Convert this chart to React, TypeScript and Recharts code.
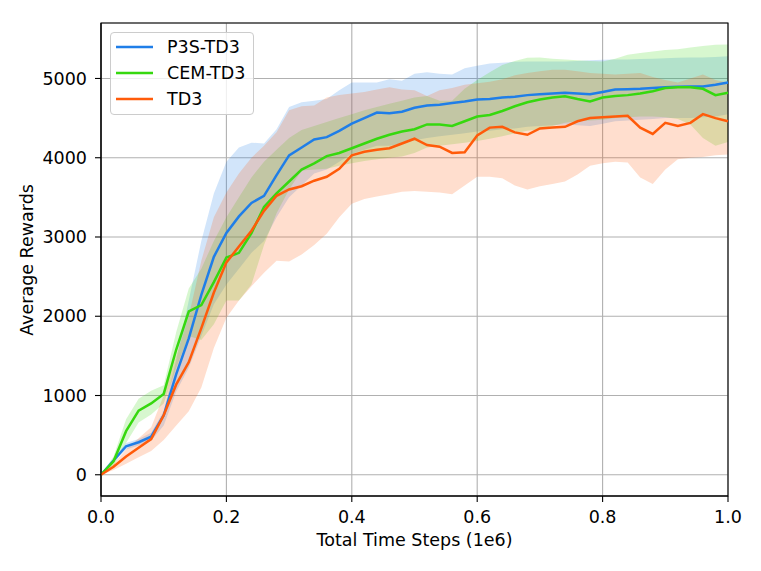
import { ComposedChart, Line, Area, XAxis, YAxis, CartesianGrid, ReferenceArea, Legend } from 'recharts';

// x positions (1e6 steps)
const steps = [
  0, 0.02, 0.04, 0.06, 0.08, 0.1, 0.12, 0.14, 0.16, 0.18,
  0.2, 0.22, 0.24, 0.26, 0.28, 0.3, 0.32, 0.34, 0.36, 0.38,
  0.4, 0.42, 0.44, 0.46, 0.48, 0.5, 0.52, 0.54, 0.56, 0.58,
  0.6, 0.62, 0.64, 0.66, 0.68, 0.7, 0.72, 0.74, 0.76, 0.78,
  0.8, 0.82, 0.84, 0.86, 0.88, 0.9, 0.92, 0.94, 0.96, 0.98, 1.0,
];

// P3S-TD3
const p3sMean = [
  0, 180, 360, 410, 480, 750, 1270, 1720, 2270, 2750,
  3050, 3260, 3430, 3520, 3780, 4030, 4130, 4230, 4260, 4340,
  4430, 4500, 4570, 4560, 4580, 4630, 4660, 4670, 4690, 4710,
  4735, 4740, 4760, 4770, 4790, 4800, 4810, 4820, 4810, 4800,
  4830, 4860, 4865, 4870, 4880, 4890, 4895, 4900, 4900, 4920, 4950,
];
const p3sLow = [
  0, 160, 320, 370, 430, 620, 1050, 1350, 1750, 2150,
  2400, 2600, 2800, 2950, 3250, 3500, 3650, 3800, 3850, 3950,
  4050, 4100, 4150, 4150, 4180, 4220, 4250, 4270, 4290, 4310,
  4330, 4340, 4360, 4370, 4390, 4400, 4410, 4420, 4410, 4400,
  4430, 4460, 4470, 4480, 4490, 4500, 4500, 4500, 4510, 4520, 4550,
];
const p3sHigh = [
  0, 200, 400, 450, 530, 800, 1450, 2200, 2950, 3550,
  3950, 4130, 4190, 4180, 4360, 4640, 4700, 4720, 4740, 4850,
  4950, 4950, 4950, 4990, 4970, 5060, 5080, 5060, 5050, 5130,
  5160, 5190, 5200, 5210, 5215, 5215, 5215, 5215, 5220, 5230,
  5235, 5240, 5240, 5245, 5250, 5255, 5260, 5265, 5265, 5270, 5280,
];

// CEM-TD3
const cemMean = [
  0, 170, 550, 810, 900, 1020, 1580, 2060, 2140, 2430,
  2740, 2800, 3050, 3380, 3550, 3700, 3850, 3930, 4020, 4060,
  4120, 4180, 4240, 4290, 4330, 4360, 4420, 4420, 4400, 4460,
  4520, 4540, 4590, 4650, 4700, 4735, 4760, 4775, 4740, 4710,
  4760, 4780, 4790, 4810, 4840, 4880, 4890, 4890, 4870, 4790, 4820,
];
const cemLow = [
  0, 110, 400, 660, 760, 900, 1350, 1750, 1700, 1900,
  2200, 2200, 2400, 2900, 3300, 3600, 3840, 3850, 3860, 3900,
  3930, 3960, 3980, 4000, 4015, 4060, 4130, 4150, 4170, 4190,
  4210, 4240, 4270, 4310, 4340, 4360, 4400, 4440, 4460, 4470,
  4480, 4500, 4510, 4520, 4520, 4510, 4490, 4420, 4250, 4150, 4200,
];
const cemHigh = [
  0, 230, 700, 960, 1060, 1130, 1800, 2350, 2600, 2950,
  3250, 3500, 3750, 3950, 4100, 4250, 4350, 4400, 4450, 4500,
  4550, 4600, 4640, 4680, 4720, 4760, 4780, 4720, 4720, 4870,
  4980, 5080, 5170, 5220, 5260, 5265, 5250, 5240, 5230, 5220,
  5215, 5250, 5300, 5320, 5340, 5360, 5370, 5390, 5410, 5425, 5430,
];

// TD3
const td3Mean = [
  0, 100, 230, 340, 450, 750, 1140, 1420, 1850, 2300,
  2680, 2880, 3080, 3330, 3520, 3600, 3640, 3710, 3760, 3860,
  4030, 4075, 4100, 4120, 4180, 4240, 4160, 4140, 4060, 4070,
  4280, 4380, 4390, 4320, 4290, 4370, 4380, 4390, 4460, 4500,
  4510, 4520, 4530, 4380, 4300, 4440, 4400, 4440, 4550, 4500, 4460,
];
const td3Low = [
  0, 60, 140, 220, 300, 440, 620, 800, 1100, 1600,
  1980, 2200, 2380, 2550, 2700, 2690, 2780, 2900, 3040, 3250,
  3420, 3480, 3510, 3540, 3570, 3580, 3570, 3560, 3540, 3650,
  3760, 3760, 3740, 3650, 3600, 3640, 3670, 3700, 3790, 3900,
  3930, 3950, 3940, 3750, 3670, 3850, 3980, 4000, 4010, 4030, 4040,
];
const td3High = [
  0, 140, 320, 460, 600, 1000, 1500, 2000, 2700, 3250,
  3560, 3800, 4000, 4150, 4320, 4600, 4650, 4660, 4760, 4790,
  4810, 4830, 4860, 4890, 4860, 4850, 4780, 4850, 4880, 4920,
  4940, 4960, 4990, 5040, 5070, 5090, 5110, 5110, 5090, 5070,
  5060, 5050, 5060, 5070, 5020, 4980, 4950, 5000, 5050, 4980, 4950,
];

const xTicks = [0, 0.2, 0.4, 0.6, 0.8, 1.0];
const yTicks = [0, 1000, 2000, 3000, 4000, 5000];

const series = [
  { key: 'p3s', name: 'P3S-TD3', color: '#1f7ee8' },
  { key: 'cem', name: 'CEM-TD3', color: '#36d80f' },
  { key: 'td3', name: 'TD3', color: '#ff5b0a' },
];

const data = steps.map((x, i) => ({
  x,
  p3s: p3sMean[i],
  p3sBand: [p3sLow[i], p3sHigh[i]],
  cem: cemMean[i],
  cemBand: [cemLow[i], cemHigh[i]],
  td3: td3Mean[i],
  td3Band: [td3Low[i], td3High[i]],
}));

const FONT = '"DejaVu Sans", sans-serif';
const FS = 17.5;
const Y_MIN = -268;
const Y_MAX = 5700;

function LegendBox() {
  return (
    <div
      style={{
        border: '1px solid #cccccc',
        borderRadius: 4,
        background: 'rgba(255,255,255,0.8)',
        width: 142,
        height: 80,
        fontFamily: FONT,
        fontSize: FS,
        lineHeight: '26px',
        color: '#000',
        paddingTop: 1,
        textAlign: 'left',
      }}
    >
      {series.map(s => (
        <div key={s.key} style={{ display: 'flex', alignItems: 'center', height: 26 }}>
          <svg width={37} height={10} style={{ marginLeft: 5, flex: 'none' }}>
            <line x1={0} y1={5} x2={37} y2={5} stroke={s.color} strokeWidth={2.5} />
          </svg>
          <span style={{ marginLeft: 14, whiteSpace: 'nowrap' }}>{s.name}</span>
        </div>
      ))}
    </div>
  );
}

export default function App() {
  return (
    <div style={{ position: 'absolute', left: 0, top: 0, width: 761, height: 571, background: '#fff' }}>
      <ComposedChart width={761} height={571} data={data} margin={{ top: 23, right: 33, bottom: 0, left: 0 }}>
        <CartesianGrid stroke="#b0b0b0" strokeWidth={1.1} horizontal vertical />
        <XAxis
          dataKey="x"
          type="number"
          domain={[0, 1]}
          ticks={xTicks}
          tickFormatter={(v: number) => v.toFixed(1)}
          height={75}
          tickSize={6}
          tickMargin={9}
          stroke="#000"
          tick={{ fill: '#000', fontSize: FS, fontFamily: FONT }}
          axisLine={{ stroke: '#000', strokeWidth: 1.1 }}
          tickLine={{ stroke: '#000', strokeWidth: 1.1 }}
          label={{ value: 'Total Time Steps (1e6)', position: 'insideBottom', offset: 25, fill: '#000', fontSize: FS, fontFamily: FONT }}
        />
        <YAxis
          type="number"
          domain={[Y_MIN, Y_MAX]}
          ticks={yTicks}
          allowDataOverflow
          width={101}
          tickSize={6}
          tickMargin={8}
          stroke="#000"
          tick={{ fill: '#000', fontSize: FS, fontFamily: FONT }}
          axisLine={{ stroke: '#000', strokeWidth: 1.1 }}
          tickLine={{ stroke: '#000', strokeWidth: 1.1 }}
          label={{
            content: () => (
              <text
                x={33}
                y={260}
                transform="rotate(-90 33 260)"
                textAnchor="middle"
                fill="#000"
                fontSize={FS}
                fontFamily={FONT}
              >
                Average Rewards
              </text>
            ),
          }}
        />
        {series.map(s => (
          <Area
            key={s.key + 'Band'}
            dataKey={s.key + 'Band'}
            type="linear"
            stroke="none"
            fill={s.color}
            fillOpacity={0.2}
            isAnimationActive={false}
            legendType="none"
            activeDot={false}
          />
        ))}
        {series.map(s => (
          <Line
            key={s.key}
            dataKey={s.key}
            name={s.name}
            type="linear"
            stroke={s.color}
            strokeWidth={2.5}
            dot={false}
            activeDot={false}
            isAnimationActive={false}
          />
        ))}
        <ReferenceArea x1={0} x2={1} y1={Y_MIN} y2={Y_MAX} fill="none" stroke="#000" strokeWidth={1.1} fillOpacity={0} />
        <Legend
          layout="horizontal"
          verticalAlign="middle"
          align="center"
          wrapperStyle={{ left: 110, top: 32, width: 'auto', height: 'auto' }}
          content={() => <LegendBox />}
        />
      </ComposedChart>
    </div>
  );
}
